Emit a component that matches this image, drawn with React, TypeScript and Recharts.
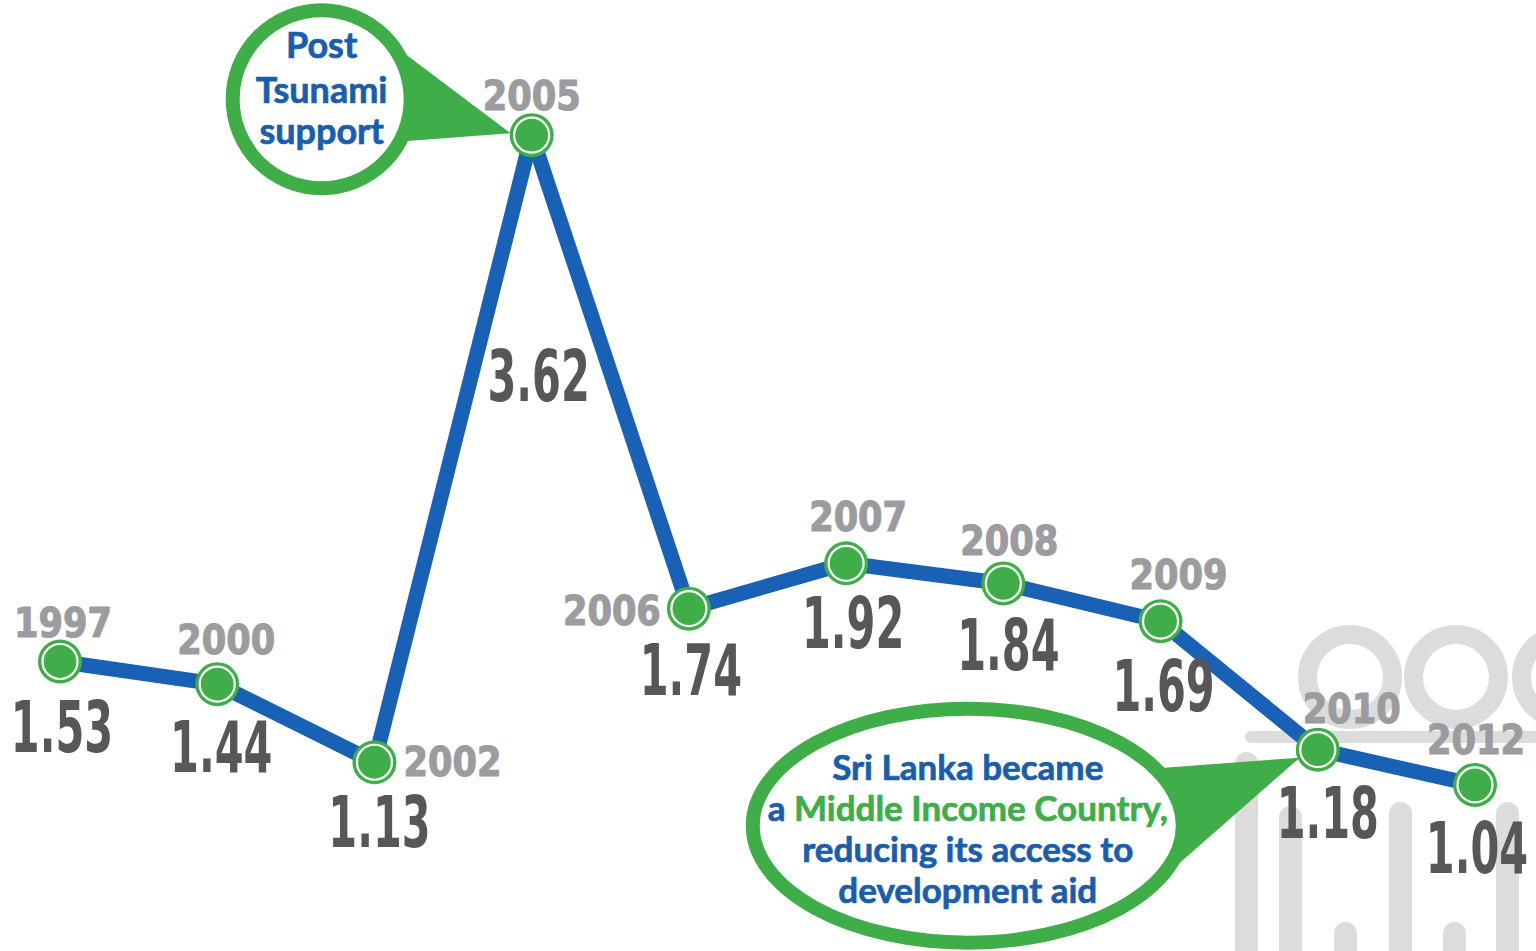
import React from 'react';
import { LineChart, Line, XAxis, YAxis } from 'recharts';

// Net ODA received, % of GNI (Sri Lanka)
const years = ['1997', '2000', '2002', '2005', '2006', '2007', '2008', '2009', '2010', '2012'];
const aidShare = [1.53, 1.44, 1.13, 3.62, 1.74, 1.92, 1.84, 1.69, 1.18, 1.04];

const tsunamiNote = [['Post'], ['Tsunami'], ['support']];
const incomeNote = [
  ['Sri Lanka became'],
  ['a ', '*Middle Income Country,'],
  ['reducing its access to'],
  ['development aid'],
];

const data = years.map((year, i) => ({ year, share: aidShare[i] }));

const BLUE = '#1861b4';
const GREEN = '#3fae49';
const TEXT_BLUE = '#1a5eab';
const YEAR_GREY = '#9c9ca0';
const VALUE_GREY = '#575759';

// label placement around each point: [dx, dy] of the text baseline
const yearOffset = [[3, -25], [9, -30], [78, 14], [0, -25], [-77, 16], [12, -32], [6, -28], [18, -32], [34, -27], [1, -31]];
const valueOffset = [[2, 90], [4, 88], [5, 85], [7, 266], [2, 86], [7, 85], [5, 87], [3, 90], [10, 88], [2, 88]];

type CalloutSpec = {
  dx: number;
  dy: number;
  rx: number;
  ry: number;
  tip: [number, number];
  base: [number, number][];
  lines: string[][];
  baselines: number[];
  fontSize: number;
};

const callouts: Record<string, CalloutSpec> = {
  '2005': {
    dx: -210, dy: -36, rx: 89, ry: 89,
    tip: [-21, -2],
    base: [[-154, -102], [-154, 8]],
    lines: tsunamiNote,
    baselines: [-41, 4, 45],
    fontSize: 36,
  },
  '2010': {
    dx: -350, dy: 76, rx: 215, ry: 117,
    tip: [-18, 8],
    base: [[-180, 20], [-180, 150]],
    lines: incomeNote,
    baselines: [-46, -5, 36, 77],
    fontSize: 35,
  },
};

function Callout({ cx, cy, spec }: { cx: number; cy: number; spec: CalloutSpec }) {
  const ex = cx + spec.dx;
  const ey = cy + spec.dy;
  const pts = [
    [cx + spec.base[0][0], cy + spec.base[0][1]],
    [cx + spec.tip[0], cy + spec.tip[1]],
    [cx + spec.base[1][0], cy + spec.base[1][1]],
  ]
    .map((p) => p.join(','))
    .join(' ');
  return (
    <g>
      <polygon points={pts} fill={GREEN} />
      <ellipse cx={ex} cy={ey} rx={spec.rx} ry={spec.ry} fill="#fff" stroke={GREEN} strokeWidth={14} />
      {spec.lines.map((parts, i) => (
        <text
          key={i}
          x={ex}
          y={ey + spec.baselines[i]}
          textAnchor="middle"
          fontFamily="Lato, 'Open Sans', sans-serif"
          fontWeight={700}
          fontSize={spec.fontSize}
          strokeWidth={0.7}
        >
          {parts.map((p, j) =>
            p.startsWith('*') ? (
              <tspan key={j} fill={GREEN} stroke={GREEN}>{p.slice(1)}</tspan>
            ) : (
              <tspan key={j} fill={TEXT_BLUE} stroke={TEXT_BLUE}>{p}</tspan>
            )
          )}
        </text>
      ))}
    </g>
  );
}

function PointMarker(props: any) {
  const { cx, cy, index } = props;
  if (cx == null || cy == null) return null;
  const spec = callouts[years[index]];
  const [yx, yy] = yearOffset[index];
  const [vx, vy] = valueOffset[index];
  return (
    <g>
      {spec && <Callout cx={cx} cy={cy} spec={spec} />}
      <circle cx={cx} cy={cy} r={22} fill={GREEN} />
      <circle cx={cx} cy={cy} r={17.5} fill="none" stroke="#fff" strokeWidth={2.2} />
      <text
        transform={`translate(${cx + yx},${cy + yy}) scale(0.88,1)`}
        textAnchor="middle"
        fill={YEAR_GREY}
        stroke={YEAR_GREY}
        strokeWidth={1.2}
        fontFamily="'DejaVu Sans', sans-serif"
        fontWeight={700}
        fontSize={40}
      >
        {years[index]}
      </text>
      <text
        transform={`translate(${cx + vx},${cy + vy}) scale(0.64,1)`}
        textAnchor="middle"
        fill={VALUE_GREY}
        fontFamily="'Liberation Sans Narrow', 'DejaVu Sans Condensed', sans-serif"
        fontWeight={700}
        fontSize={72}
      >
        {aidShare[index].toFixed(2)}
      </text>
    </g>
  );
}

function Watermark() {
  const c = '#dcdcdc';
  const bars = [
    [1235, 752], [1279, 806], [1334, 922], [1389, 802], [1443, 922], [1496, 802],
  ];
  return (
    <svg width={1536} height={951} style={{ position: 'absolute', left: 0, top: 0 }}>
      {[1350, 1456, 1564].map((x) => (
        <circle key={x} cx={x} cy={677} r={42.5} fill="none" stroke={c} strokeWidth={19} />
      ))}
      <rect x={1245} y={731} width={300} height={12} rx={6} fill={c} />
      {bars.map(([x, top]) => (
        <rect key={x} x={x} y={top} width={23} height={951 - top + 20} rx={11.5} fill={c} />
      ))}
    </svg>
  );
}

export default function App() {
  return (
    <div style={{ position: 'absolute', left: 0, top: 0, width: 1536, height: 951, background: '#fff', overflow: 'hidden' }}>
      <Watermark />
      <div style={{ position: 'absolute', left: 0, top: 0 }}>
        <LineChart width={1536} height={951} data={data} margin={{ top: 115, right: 61, bottom: 156, left: 60 }}>
          <XAxis dataKey="year" hide />
          <YAxis hide domain={[1, 3.7]} />
          <Line
            dataKey="share"
            stroke={BLUE}
            strokeWidth={15}
            strokeLinejoin="round"
            activeDot={false}
            isAnimationActive={false}
            dot={(p: any) => {
              const { key, ...rest } = p;
              return <PointMarker key={key ?? p.index} {...rest} />;
            }}
          />
        </LineChart>
      </div>
    </div>
  );
}
